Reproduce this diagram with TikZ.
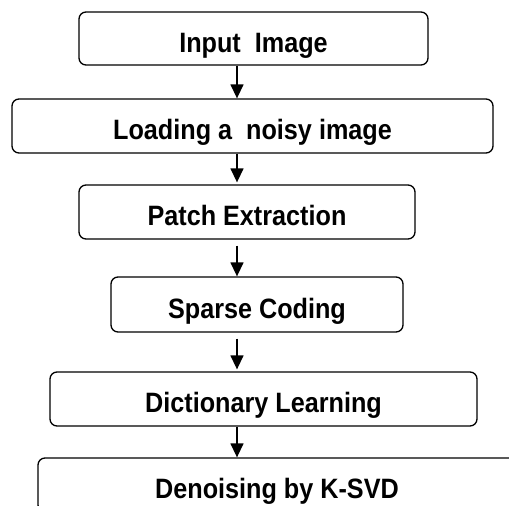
\documentclass[tikz,border=0pt]{standalone}
\usepackage{fontspec}
\setmainfont{Liberation Sans}[FakeStretch=0.9]
\usetikzlibrary{arrows.meta}
\begin{document}
\begin{tikzpicture}[x=1pt,y=-1pt,
  stage/.style={draw=black,line width=1.3pt,rounded corners=7pt,inner sep=0pt,
    font=\fontsize{28}{30}\selectfont\bfseries,text height=27pt,text depth=0pt},
  arr/.style={draw=black,line width=1.4pt,-{Triangle[width=13pt,length=14pt]}}]
\useasboundingbox (0,0) rectangle (509,506);
\clip (0,0) rectangle (509,506);
\node[stage,minimum width=349pt,minimum height=53pt] (b1) at (253.5,38.5) {Input~~Image};
\node[stage,minimum width=481pt,minimum height=54pt] (b2) at (252.5,126) {Loading a~~noisy image};
\node[stage,minimum width=336pt,minimum height=54pt] (b3) at (247,212) {Patch Extraction};
\node[stage,minimum width=292pt,minimum height=55pt] (b4) at (257,304.5) {Sparse Coding};
\node[stage,minimum width=427pt,minimum height=54pt] (b5) at (263.5,399) {Dictionary Learning};
\node[stage,minimum width=478pt,minimum height=54pt] (b6) at (277,485) {Denoising by K-SVD};
\coordinate (ax) at (237,0);
\draw[arr] (b1.south -| ax) -- (b2.north -| ax);
\draw[arr,shorten >=2pt] (b2.south -| ax) -- (b3.north -| ax);
\draw[arr,shorten <=6pt] (b3.south -| ax) -- (b4.north -| ax);
\draw[arr,shorten <=6pt,shorten >=2pt] (b4.south -| ax) -- (b5.north -| ax);
\draw[arr] (b5.south -| ax) -- (b6.north -| ax);
\end{tikzpicture}
\end{document}
